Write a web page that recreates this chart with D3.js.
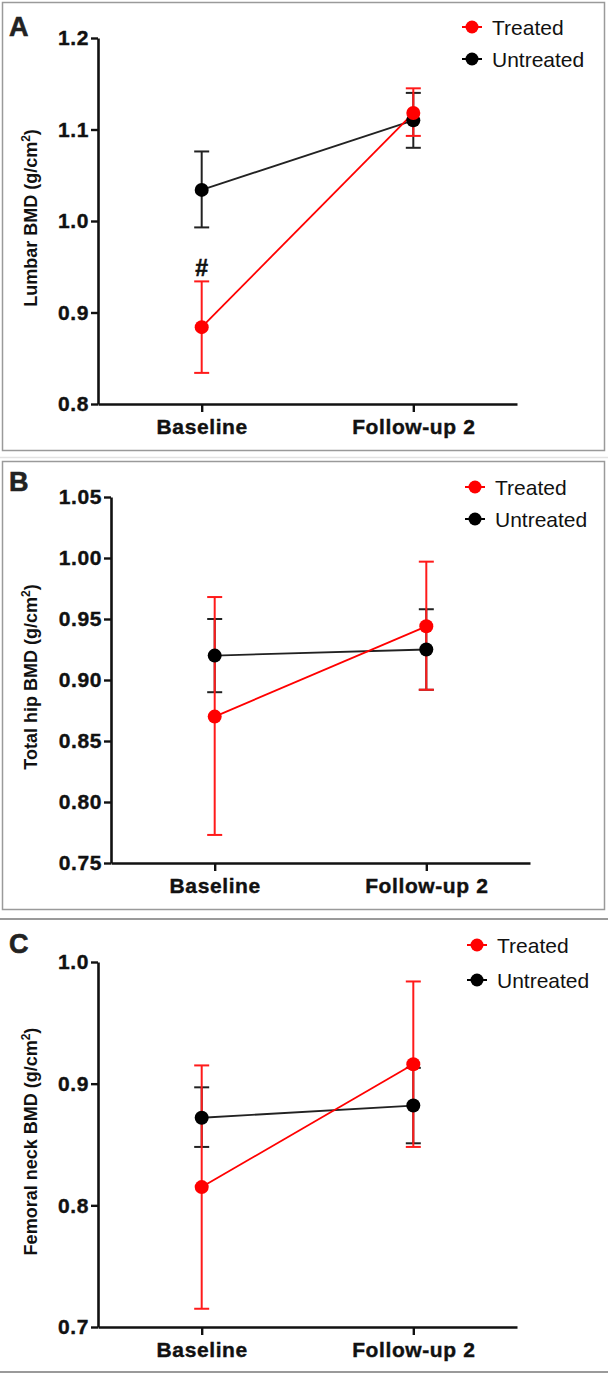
<!DOCTYPE html>
<html><head><meta charset="utf-8">
<script src="https://cdn.jsdelivr.net/npm/d3@7"></script>
<style>
html,body{margin:0;padding:0;background:#fff;}
svg{display:block;font-family:"Liberation Sans",Arial,Helvetica,sans-serif;}
</style></head>
<body>
<svg id="chart" width="608" height="1378"></svg>
<script>
// ---- data ----
const categories = ["Baseline", "Follow-up 2"];
const seriesNames = ["Treated", "Untreated"];
const seriesColors = ["#ff0000", "#000000"];

const lumbarTreated = [0.884, 1.118];
const lumbarTreatedLow = [0.834, 1.093];
const lumbarTreatedHigh = [0.934, 1.145];
const lumbarUntreated = [1.034, 1.110];
const lumbarUntreatedLow = [0.993, 1.080];
const lumbarUntreatedHigh = [1.076, 1.140];
const lumbarTicks = [0.8, 0.9, 1.0, 1.1, 1.2];

const hipTreated = [0.870, 0.944];
const hipTreatedLow = [0.773, 0.892];
const hipTreatedHigh = [0.968, 0.997];
const hipUntreated = [0.920, 0.925];
const hipUntreatedLow = [0.890, 0.892];
const hipUntreatedHigh = [0.950, 0.958];
const hipTicks = [0.75, 0.80, 0.85, 0.90, 0.95, 1.00, 1.05];

const neckTreated = [0.815, 0.916];
const neckTreatedLow = [0.715, 0.848];
const neckTreatedHigh = [0.915, 0.984];
const neckUntreated = [0.872, 0.882];
const neckUntreatedLow = [0.848, 0.851];
const neckUntreatedHigh = [0.897, 0.913];
const neckTicks = [0.7, 0.8, 0.9, 1.0];

const panelLabels = ["A", "B", "C"];
const yTitles = ["Lumbar BMD (g/cm", "Total hip BMD (g/cm", "Femoral neck BMD (g/cm"];

// ---- layout ----
const panels = [
  { label: panelLabels[0], title: yTitles[0], ticks: lumbarTicks, fmt: d3.format(".1f"),
    x0: 98, x1: 517, top: 38, bottom: 404, legX: 472, legY: 27,
    treated: [lumbarTreated, lumbarTreatedLow, lumbarTreatedHigh],
    untreated: [lumbarUntreated, lumbarUntreatedLow, lumbarUntreatedHigh], hash: true,
    labelY: 36 },
  { label: panelLabels[1], title: yTitles[1], ticks: hipTicks, fmt: d3.format(".2f"),
    x0: 111, x1: 530, top: 497, bottom: 863, legX: 475, legY: 487,
    treated: [hipTreated, hipTreatedLow, hipTreatedHigh],
    untreated: [hipUntreated, hipUntreatedLow, hipUntreatedHigh], hash: false,
    labelY: 491 },
  { label: panelLabels[2], title: yTitles[2], ticks: neckTicks, fmt: d3.format(".1f"),
    x0: 98, x1: 517, top: 962, bottom: 1327, legX: 477, legY: 945,
    treated: [neckTreated, neckTreatedLow, neckTreatedHigh],
    untreated: [neckUntreated, neckUntreatedLow, neckUntreatedHigh], hash: false,
    labelY: 953 }
];

const svg = d3.select("#chart");

// frames
svg.append("rect").attr("x", 2.5).attr("y", 2.5).attr("width", 602).attr("height", 448)
  .attr("fill", "none").attr("stroke", "#9a9a9a").attr("stroke-width", 1.5);
svg.append("line").attr("x1", 0).attr("x2", 608).attr("y1", 457.5).attr("y2", 457.5)
  .attr("stroke", "#e2e2e2").attr("stroke-width", 1.5);
svg.append("rect").attr("x", 2.5).attr("y", 461.5).attr("width", 602).attr("height", 448)
  .attr("fill", "none").attr("stroke", "#9a9a9a").attr("stroke-width", 1.5);
svg.append("line").attr("x1", 0).attr("x2", 608).attr("y1", 919).attr("y2", 919)
  .attr("stroke", "#9a9a9a").attr("stroke-width", 2);
svg.append("line").attr("x1", 0).attr("x2", 608).attr("y1", 1372).attr("y2", 1372)
  .attr("stroke", "#9a9a9a").attr("stroke-width", 2);

panels.forEach(p => {
  const g = svg.append("g");
  const x = d3.scalePoint().domain(categories).range([p.x0, p.x1]).padding(0.49);
  const y = d3.scaleLinear().domain(d3.extent(p.ticks)).range([p.bottom, p.top]);

  // panel label
  g.append("text").attr("x", 9).attr("y", p.labelY).text(p.label)
    .attr("font-size", 27).attr("font-weight", "bold").attr("fill", "#222")
    .attr("stroke", "#222").attr("stroke-width", 0.6);

  // axes
  const yAxis = g.append("g").attr("transform", `translate(${p.x0},0)`)
    .call(d3.axisLeft(y).tickValues(p.ticks).tickFormat(p.fmt).tickSize(7).tickSizeOuter(0));
  const xAxis = g.append("g").attr("transform", `translate(0,${p.bottom})`)
    .call(d3.axisBottom(x).tickSize(8).tickSizeOuter(0));
  [yAxis, xAxis].forEach(a => {
    a.select(".domain").attr("stroke", "#111").attr("stroke-width", 2.6);
    a.selectAll(".tick line").attr("stroke", "#111").attr("stroke-width", 2.4);
    a.selectAll(".tick text").attr("font-size", 21).attr("font-weight", "bold")
      .attr("fill", "#111").attr("stroke", "#111").attr("stroke-width", 0.4)
      .attr("letter-spacing", 0.6)
      .attr("font-family", "'Liberation Sans',Arial,sans-serif");
  });
  yAxis.selectAll(".tick text").attr("x", -9);
  xAxis.selectAll(".tick text").attr("y", 15);

  // y title
  const cy = (p.top + p.bottom) / 2 - 3;
  const t = g.append("text").attr("transform", `translate(37,${cy}) rotate(-90)`)
    .attr("text-anchor", "middle").attr("font-size", 18).attr("font-weight", "bold").attr("fill", "#111");
  t.append("tspan").text(p.title);
  t.append("tspan").text("2").attr("font-size", 12).attr("dy", -7);
  t.append("tspan").text(")").attr("dy", 7);

  const series = [
    { vals: p.untreated, color: "#000000", line: "#222" },
    { vals: p.treated, color: "#ff0000", line: "#ff0000" }
  ];
  // error bars (untreated first, then treated)
  series.forEach(s => {
    categories.forEach((c, i) => {
      const cx = x(c);
      const eb = g.append("g").attr("stroke", s.color === "#000000" ? "#222" : "#ff1a1a").attr("stroke-width", 2);
      eb.append("line").attr("x1", cx).attr("x2", cx).attr("y1", y(s.vals[1][i])).attr("y2", y(s.vals[2][i]));
      eb.append("line").attr("x1", cx - 7.5).attr("x2", cx + 7.5).attr("y1", y(s.vals[1][i])).attr("y2", y(s.vals[1][i]));
      eb.append("line").attr("x1", cx - 7.5).attr("x2", cx + 7.5).attr("y1", y(s.vals[2][i])).attr("y2", y(s.vals[2][i]));
    });
  });
  // connecting lines
  series.forEach(s => {
    const line = d3.line().x((d, i) => x(categories[i])).y(d => y(d));
    g.append("path").attr("d", line(s.vals[0])).attr("fill", "none")
      .attr("stroke", s.line).attr("stroke-width", 1.8);
  });
  // dots
  series.forEach(s => {
    g.selectAll(null).data(s.vals[0]).enter().append("circle")
      .attr("cx", (d, i) => x(categories[i])).attr("cy", d => y(d)).attr("r", 7)
      .attr("fill", s.color);
  });

  // significance mark
  if (p.hash) {
    g.append("text").attr("x", x(categories[0])).attr("y", y(p.treated[2][0]) - 5)
      .attr("text-anchor", "middle").attr("font-size", 23).attr("font-weight", "bold")
      .attr("fill", "#111").attr("stroke", "#111").attr("stroke-width", 0.5).text("#");
  }

  // legend
  seriesNames.forEach((n, i) => {
    const ly = p.legY + i * (p === panels[2] ? 35 : 32);
    const lg = g.append("g");
    lg.append("line").attr("x1", p.legX - 10).attr("x2", p.legX + 10).attr("y1", ly).attr("y2", ly)
      .attr("stroke", seriesColors[i]).attr("stroke-width", 2);
    lg.append("circle").attr("cx", p.legX).attr("cy", ly).attr("r", 6.5).attr("fill", seriesColors[i]);
    lg.append("text").attr("x", p.legX + 20).attr("y", ly + 7.5).text(n)
      .attr("font-size", 21).attr("fill", "#111");
  });
});
</script>
</body></html>
